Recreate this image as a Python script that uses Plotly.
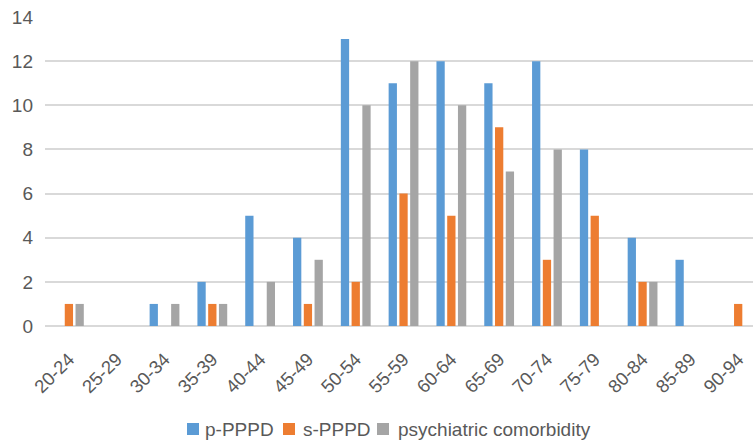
import plotly.graph_objects as go

age_groups = ["20-24", "25-29", "30-34", "35-39", "40-44", "45-49", "50-54", "55-59",
              "60-64", "65-69", "70-74", "75-79", "80-84", "85-89", "90-94"]
p_pppd = [0, 0, 1, 2, 5, 4, 13, 11, 12, 11, 12, 8, 4, 3, 0]
s_pppd = [1, 0, 0, 1, 0, 1, 2, 6, 5, 9, 3, 5, 2, 0, 1]
psych = [1, 0, 1, 1, 2, 3, 10, 12, 10, 7, 8, 0, 2, 0, 0]

series = [
    ("p-PPPD", p_pppd, "#5B9BD5"),
    ("s-PPPD", s_pppd, "#ED7D31"),
    ("psychiatric comorbidity", psych, "#A5A5A5"),
]

W, H = 753, 441
L, R, T, B = 45, 0, 17, 115
plot_w, plot_h = W - L - R, H - T - B
text_color = "#595959"
font_family = "Liberation Sans, Arial, sans-serif"

fig = go.Figure()
for name, vals, color in series:
    fig.add_trace(go.Bar(x=age_groups, y=vals, name=name, marker_color=color,
                         marker_line_width=0, showlegend=False))

# hand-built legend row below the axis (pixel positions -> paper fractions)
def px_x(px):
    return (px - L) / plot_w

def px_y(py):
    return (H - B - py) / plot_h

legend_items = [(187, 203), (283, 301), (377, 396)]
shapes, annotations = [], []
for (sq_x, tx_x), (name, _, color) in zip(legend_items, series):
    shapes.append(dict(type="rect", xref="paper", yref="paper",
                       x0=px_x(sq_x), x1=px_x(sq_x + 12),
                       y0=px_y(435), y1=px_y(423),
                       fillcolor=color, line=dict(width=0)))
    annotations.append(dict(xref="paper", yref="paper", x=px_x(tx_x), y=px_y(429),
                            xanchor="left", yanchor="middle", showarrow=False,
                            text=name, font=dict(size=19, color=text_color,
                                                 family=font_family)))

fig.update_layout(
    width=W, height=H,
    margin=dict(l=L, r=R, t=T, b=B),
    paper_bgcolor="white", plot_bgcolor="white",
    barmode="group", bargap=0.325, bargroupgap=0.23,
    font=dict(family=font_family, size=18, color=text_color),
    showlegend=False,
    shapes=shapes, annotations=annotations,
    xaxis=dict(type="category", range=[-0.5, 14.31], tickangle=-45, showgrid=False,
               showline=False, ticks="", automargin=False,
               tickfont=dict(size=18.5, color=text_color), ticklabelstandoff=18),
    yaxis=dict(range=[0, 14], dtick=2, showgrid=True, gridcolor="#D9D9D9",
               gridwidth=1.5, zeroline=True, zerolinecolor="#D9D9D9",
               zerolinewidth=1.5, showline=False, ticks="", automargin=False,
               tickfont=dict(size=19, color=text_color), ticklabelstandoff=11),
)

fig.write_html("out.html")
